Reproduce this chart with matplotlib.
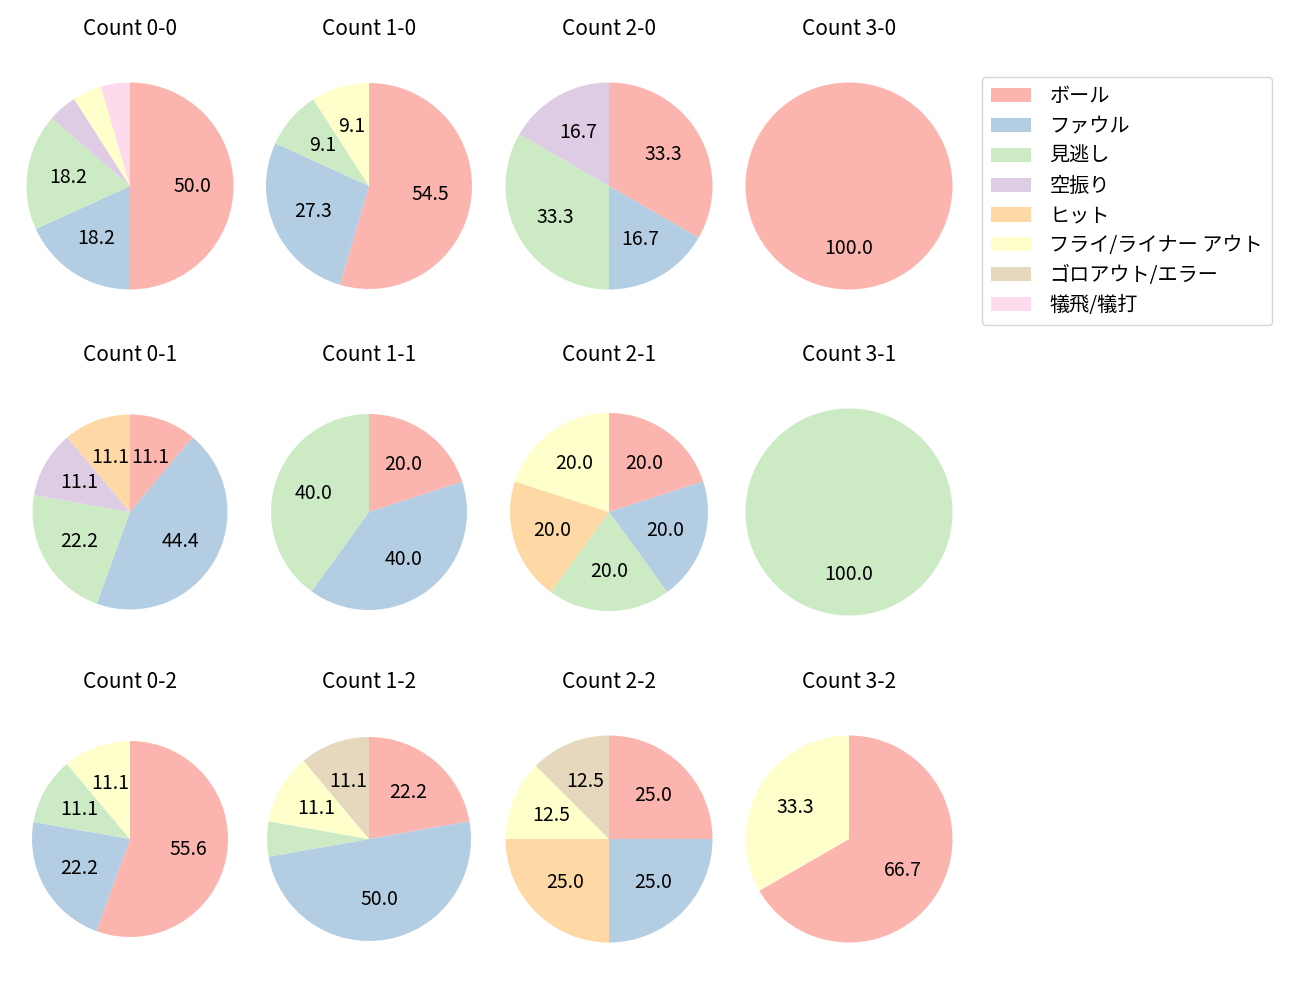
import numpy as np
import matplotlib
matplotlib.use("Agg")
import matplotlib.pyplot as plt
from matplotlib.patches import Patch

plt.rcParams['font.family'] = ['Noto Sans CJK JP', 'DejaVu Sans']

# 結果カテゴリ
categories = ["ボール", "ファウル", "見逃し", "空振り", "ヒット",
              "フライ/ライナー アウト", "ゴロアウト/エラー", "犠飛/犠打"]
colors = plt.cm.Pastel1(np.arange(8))

# カウント別の件数 (categories の順)
counts = {
    "0-0": [11, 4, 4, 1, 0, 1, 0, 1],
    "1-0": [6, 3, 1, 0, 0, 1, 0, 0],
    "2-0": [2, 1, 2, 1, 0, 0, 0, 0],
    "3-0": [1, 0, 0, 0, 0, 0, 0, 0],
    "0-1": [1, 4, 2, 1, 1, 0, 0, 0],
    "1-1": [1, 2, 2, 0, 0, 0, 0, 0],
    "2-1": [1, 1, 1, 0, 1, 1, 0, 0],
    "3-1": [0, 0, 1, 0, 0, 0, 0, 0],
    "0-2": [5, 2, 1, 0, 0, 1, 0, 0],
    "1-2": [4, 9, 1, 0, 0, 2, 2, 0],
    "2-2": [2, 2, 0, 0, 2, 1, 1, 0],
    "3-2": [2, 0, 0, 0, 0, 1, 0, 0],
}
balls = [0, 1, 2, 3]
strikes = [0, 1, 2]

# layout (pixels)
W, H = 1300, 1000
col_x = [130, 369, 609, 849]
row_y = [186, 512, 839]
radii = [[103.5, 103, 103.5, 103.5],
         [97.5, 98, 99, 103.5],
         [98, 102, 103.5, 103.5]]
S = 240

fig = plt.figure(figsize=(13, 10), dpi=100)
for r, s in enumerate(strikes):
    for c, b in enumerate(balls):
        key = f"{b}-{s}"
        cx, cy = col_x[c], row_y[r]
        ax = fig.add_axes([(cx - S/2)/W, 1 - (cy + S/2)/H, S/W, S/H])
        vals = np.array(counts[key], dtype=float)
        mask = vals > 0
        ax.pie(vals[mask], colors=colors[mask], startangle=90, counterclock=False,
               autopct=lambda p: f"{p:.1f}" if p >= 8 else "",
               textprops=dict(fontsize=14), radius=1.0)
        lim = 1.0 * (S/2) / radii[r][c]
        ax.set_xlim(-lim, lim); ax.set_ylim(-lim, lim)
        ax.set_aspect("equal")
        ax.text(0.5, 0.5 + 157/S, f"Count {key}", transform=ax.transAxes,
                ha="center", va="center", fontsize=15)

handles = [Patch(facecolor=colors[i], label=categories[i]) for i in range(8)]
fig.legend(handles=handles, loc="upper left", bbox_to_anchor=(982/W, 1 - 77/H),
           borderaxespad=0, fontsize=14.5, labelspacing=0.44, handletextpad=0.9,
           borderpad=0.45, frameon=True)
fig.savefig("out.png", dpi=100, facecolor="white")
